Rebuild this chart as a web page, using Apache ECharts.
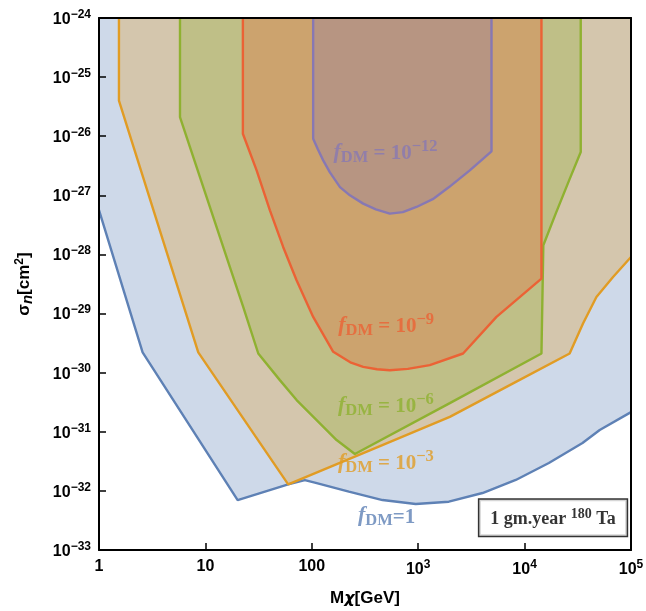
<!DOCTYPE html>
<html><head><meta charset="utf-8">
<script src="https://cdn.jsdelivr.net/npm/echarts@6/dist/echarts.min.js"></script>
<style>html,body{margin:0;padding:0;background:#fff}#c{width:646px;height:611px}</style>
</head><body><div id="c"></div>
<script>
// x: dark-matter mass M_chi [GeV], y: sigma_n [cm^2]
const xTickValues = [1, 10, 100, 1e3, 1e4, 1e5];
const yTickValues = [1e-33, 1e-32, 1e-31, 1e-30, 1e-29, 1e-28, 1e-27, 1e-26, 1e-25, 1e-24];

const fdm1 = [[1,5.6e-28],[2.57,2.2e-30],[20.1,7.0e-33],[60,1.29e-32],[86,1.52e-32],[109,1.37e-32],[223,9.7e-33],[462,7.0e-33],[948,6.0e-33],[1940,6.56e-33],[4020,9.2e-33],[8260,1.53e-32],[16900,2.96e-32],[35000,6.44e-32],[50800,1.07e-31],[1e5,2.15e-31]];
const fdm3 = [[1.54,1e-24],[1.54,4.0e-26],[8.57,2.2e-30],[60,1.29e-32],[351,4.86e-32],[1982,1.79e-31],[7255,6.15e-31],[26500,2.11e-30],[35400,6.8e-30],[47300,1.91e-29],[67800,4.16e-29],[1e5,9.06e-29]];
const fdm6 = [[5.77,1e-24],[5.77,2.1e-26],[17.0,6.1e-29],[22.7,1.29e-29],[31.4,2.11e-30],[50.1,7.48e-31],[72.0,3.44e-31],[111,1.58e-31],[171,7.24e-32],[254,4.2e-32],[1982,3.05e-31],[14400,2.11e-30],[15000,1.43e-28],[19600,4.9e-28],[26200,1.79e-27],[33700,5.4e-27],[33700,1e-24]];
const fdm9 = [[22.5,1e-24],[22.5,1.1e-26],[30.3,2.65e-27],[40.4,5.58e-28],[53.8,1.34e-28],[71.9,3.66e-29],[103,8.78e-30],[159,2.25e-30],[230,1.5e-30],[304,1.25e-30],[410,1.14e-30],[541,1.1e-30],[800,1.16e-30],[1285,1.34e-30],[2641,2.11e-30],[5440,8.78e-30],[14400,3.9e-29],[14400,1e-24]];
const fdm12 = [[103,1e-24],[103,9.1e-27],[114,6.0e-27],[128,3.9e-27],[148,2.45e-27],[184,1.38e-27],[228,1.0e-27],[304,7.24e-28],[400,5.8e-28],[541,4.9e-28],[717,5.2e-28],[964,6.35e-28],[1371,8.6e-28],[1950,1.38e-27],[3055,2.65e-27],[4885,5.55e-27],[4885,1e-24]];

const curveNames = ['fDM=1','fDM=1e-3','fDM=1e-6','fDM=1e-9','fDM=1e-12'];
const curveColors = ['#5E81B5','#E19C24','#8FB131','#EB6235','#8778B3'];
const curveData = [fdm1, fdm3, fdm6, fdm9, fdm12];

// annotation texts and their anchor points (data coordinates)
const annoText = ['1', '10^-3', '10^-6', '10^-9', '10^-12'];
const annoAnchor = [[269,3.6e-33],[174,3.08e-32],[174,2.83e-31],[175,6.35e-30],[158,5.33e-27]];
const boxAnchor = [18500, 3.5e-33];

// the y axis works in units of 1e-33 cm^2 (avoids float rounding of tiny numbers)
const Y_UNIT = 1e-33;
const toAxis = p => [p[0], p[1] / Y_UNIT];

const SANS = 'Liberation Sans, Arial, sans-serif';
const SERIF = 'Liberation Serif, Times New Roman, serif';

function expStr(e){ return e < 0 ? '\u2212' + (-e) : String(e); }
function yFmt(v, idx){
  let e = Math.round(Math.log10(v)) - 33;
  if (!isFinite(e)) e = Math.round(Math.log10(yTickValues[idx]));
  return '{b|10}{s|' + expStr(e) + '}';
}
function xFmt(v, idx){
  let e = Math.round(Math.log10(v));
  if (!isFinite(e)) e = Math.round(Math.log10(xTickValues[idx]));
  if (e <= 2) return '{b|' + Math.round(Math.pow(10, e)) + '}';
  return '{b|10}{s|' + expStr(e) + '}';
}

const tickRich = {
  b: {fontFamily: SANS, fontWeight: 'bold', fontSize: 16, color: '#000', verticalAlign: 'bottom'},
  s: {fontFamily: SANS, fontWeight: 'bold', fontSize: 12, color: '#000', verticalAlign: 'bottom', padding: [0,0,7,0]}
};

function annoFmt(t){
  if (t === '1') return '{f|f}{d|DM}{t|=1}';
  const p = t.split('^');
  return '{f|f}{d|DM}{t| = ' + p[0] + '}{u|' + p[1].replace('-', '\u2212') + '}';
}
const annoRich = {
  f: {fontFamily: SERIF, fontStyle: 'italic', fontWeight: 'bold', fontSize: 22, verticalAlign: 'bottom', padding: [0,0,3,0]},
  d: {fontFamily: SERIF, fontWeight: 'bold', fontSize: 16.5, verticalAlign: 'bottom'},
  t: {fontFamily: SERIF, fontWeight: 'bold', fontSize: 21, verticalAlign: 'bottom', padding: [0,0,2,0]},
  u: {fontFamily: SERIF, fontWeight: 'bold', fontSize: 16.5, verticalAlign: 'bottom', padding: [0,0,11,0]}
};

const axisCommonX = {type: 'log', logBase: 10, min: xTickValues[0], max: xTickValues[xTickValues.length-1], splitNumber: 5, z: 10};
const axisCommonY = {type: 'log', logBase: 10, min: yTickValues[0] / Y_UNIT, max: yTickValues[yTickValues.length-1] / Y_UNIT, splitNumber: 9, z: 10};

const series = curveData.map((d, i) => ({
  name: curveNames[i], type: 'line', data: d.map(toAxis), symbol: 'none', z: 2 + i,
  lineStyle: {color: curveColors[i], width: 2.4},
  areaStyle: {color: curveColors[i], opacity: 0.3, origin: 'end'},
  silent: true, animation: false
}));

series.push({
  type: 'scatter', symbolSize: 1, itemStyle: {color: 'rgba(0,0,0,0)'}, z: 20, animation: false, silent: true,
  data: annoAnchor.map((a, i) => ({
    value: toAxis(a),
    label: {show: true, position: 'right', distance: 0, color: curveColors[i], formatter: annoFmt(annoText[i]), rich: annoRich}
  })).concat([{
    value: toAxis(boxAnchor),
    label: {show: true, position: 'inside', color: '#000', formatter: '{n|1 gm.year }{u|180}{n| Ta}',
      borderColor: '#000', borderWidth: 1.5, padding: [8, 11, 7, 11], backgroundColor: '#fff',
      rich: {n: {fontFamily: SERIF, fontWeight: 'bold', fontSize: 18, verticalAlign: 'bottom'},
             u: {fontFamily: SERIF, fontWeight: 'bold', fontSize: 14, verticalAlign: 'bottom', padding: [0,0,7,0]}}}
  }])
});

const chart = echarts.init(document.getElementById('c'), null, {renderer: 'canvas'});
chart.setOption({
  animation: false,
  backgroundColor: '#fff',
  grid: {left: 99, right: 15, top: 18, bottom: 61, outerBoundsMode: 'none'},
  xAxis: [
    Object.assign({}, axisCommonX, {
      position: 'bottom',
      name: '{m|M}{c|\u03C7}{m|[GeV]}', nameLocation: 'middle', nameGap: 40,
      nameTextStyle: {rich: {m: {fontFamily: SANS, fontWeight: 'bold', fontSize: 17, color: '#000'}, c: {fontFamily: 'DejaVu Sans', fontStyle: 'italic', fontWeight: 'bold', fontSize: 16, color: '#000'}}},
      axisLine: {show: true, onZero: false, lineStyle: {color: '#000', width: 2}},
      axisTick: {show: true, inside: true, length: 7, lineStyle: {color: '#000', width: 1.5}},
      axisLabel: {show: true, margin: 9, formatter: xFmt, rich: tickRich},
      splitLine: {show: false}
    }),
    Object.assign({}, axisCommonX, {
      position: 'top', axisLine: {show: true, onZero: false, lineStyle: {color: '#000', width: 2}},
      axisTick: {show: false}, axisLabel: {show: false}, splitLine: {show: false}
    })
  ],
  yAxis: [
    Object.assign({}, axisCommonY, {
      position: 'left',
      name: '\u03C3{i|n}[cm{s|2}]', nameLocation: 'middle', nameGap: 64,
      nameTextStyle: {fontFamily: SANS, fontWeight: 'bold', fontSize: 17, color: '#000',
        rich: {i: {fontFamily: SANS, fontStyle: 'italic', fontWeight: 'bold', fontSize: 15, color: '#000', verticalAlign: 'bottom'},
               s: {fontFamily: SANS, fontWeight: 'bold', fontSize: 12, color: '#000', verticalAlign: 'bottom', padding: [0,0,9,0]}}},
      axisLine: {show: true, onZero: false, lineStyle: {color: '#000', width: 2}},
      axisTick: {show: true, inside: true, length: 7, lineStyle: {color: '#000', width: 1.5}},
      axisLabel: {show: true, margin: 8, formatter: yFmt, rich: tickRich},
      splitLine: {show: false}
    }),
    Object.assign({}, axisCommonY, {
      position: 'right', axisLine: {show: true, onZero: false, lineStyle: {color: '#000', width: 2}},
      axisTick: {show: false}, axisLabel: {show: false}, splitLine: {show: false}
    })
  ],
  series: series
});
</script>
</body></html>
